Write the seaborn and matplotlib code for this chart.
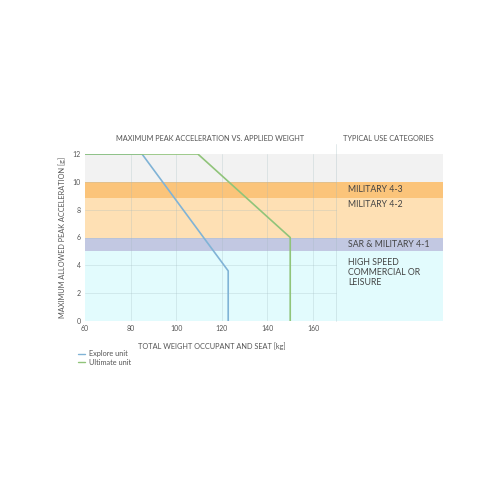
import pandas as pd
import matplotlib
matplotlib.use("Agg")
import matplotlib.pyplot as plt
from matplotlib.lines import Line2D
import seaborn as sns

# Curve data
explore_x = [60, 85, 122.8, 122.8]
explore_y = [12, 12, 3.6, 0]
ultimate_x = [60, 109.5, 150, 150]
ultimate_y = [12, 12, 6, 0]

# Use category bands (lower, upper acceleration) and labels
band_low = [10, 8.85, 6, 5, 0]
band_high = [12, 10, 8.85, 6, 5]
band_colors = ['#f2f2f2', '#fbc47a', '#fee0b4', '#c2c8e2', '#e2fbfd']
category_labels = ['MILITARY 4-3', 'MILITARY 4-2', 'SAR & MILITARY 4-1',
                   'HIGH SPEED\nCOMMERCIAL OR\nLEISURE']
category_y = [9.45, 8.4, 5.5, 3.5]

x_ticks = [60, 80, 100, 120, 140, 160]
y_ticks = [0, 2, 4, 6, 8, 10, 12]

sns.set_theme(style="white")
plt.rcParams['font.family'] = ['Lato', 'DejaVu Sans']
txt = '#555555'
grid_c = '#9fb8bd'

df = pd.DataFrame({
    'weight': explore_x + ultimate_x,
    'accel': explore_y + ultimate_y,
    'unit': ['Explore unit'] * 4 + ['Ultimate unit'] * 4,
})

fig = plt.figure(figsize=(5, 5), dpi=100)
ax = fig.add_axes([0.17, 0.358, 0.716, 0.334])

for lo, hi, c in zip(band_low, band_high, band_colors):
    ax.axhspan(lo, hi, color=c, lw=0, zorder=0)

# grid only inside the plot area (60..170)
for y in y_ticks[1:-1]:
    ax.plot([60, 170], [y, y], color=grid_c, alpha=0.3, lw=0.6, zorder=1)
for x in x_ticks[1:]:
    ax.plot([x, x], [0, 12], color=grid_c, alpha=0.3, lw=0.6, zorder=1)
ax.plot([170, 170], [0, 12.7], color=grid_c, alpha=0.35, lw=0.6, zorder=1,
        clip_on=False)

sns.lineplot(data=df, x='weight', y='accel', hue='unit', sort=False,
             estimator=None, units='unit',
             palette={'Explore unit': '#80b3d6', 'Ultimate unit': '#90c47a'},
             lw=1.2, ax=ax, zorder=3, legend=False)

for lab, y in zip(category_labels, category_y):
    ax.text(175.5, y, lab, fontsize=6.3, color='#444444', va='center',
            ha='left', linespacing=1.15)

ax.text(115, 13.1, 'MAXIMUM PEAK ACCELERATION VS. APPLIED WEIGHT',
        fontsize=5.3, color=txt, ha='center', va='center')
ax.text(193, 13.1, 'TYPICAL USE CATEGORIES', fontsize=5.3, color=txt,
        ha='center', va='center')

ax.set_xlim(60, 217)
ax.set_ylim(0, 12)
ax.set_xticks(x_ticks)
ax.set_yticks(y_ticks)
ax.tick_params(labelsize=5, colors=txt, length=0, pad=3)
ax.set_xlabel('TOTAL WEIGHT OCCUPANT AND SEAT [kg]', fontsize=5.3,
              color=txt, labelpad=6)
ax.xaxis.set_label_coords(0.355, -0.13)
ax.set_ylabel('MAXIMUM ALLOWED PEAK ACCELERATION [g]', fontsize=5.3,
              color=txt, labelpad=5)
for s in ax.spines.values():
    s.set_visible(False)

handles = [Line2D([], [], color='#80b3d6', lw=1),
           Line2D([], [], color='#90c47a', lw=1)]
fig.legend(handles, ['Explore unit', 'Ultimate unit'], loc='upper left',
           bbox_to_anchor=(0.148, 0.307), frameon=False, fontsize=5.3,
           handlelength=1.0, handletextpad=0.5, labelspacing=0.2,
           labelcolor=txt, borderpad=0)

fig.savefig('out.png', dpi=100, facecolor='white')
